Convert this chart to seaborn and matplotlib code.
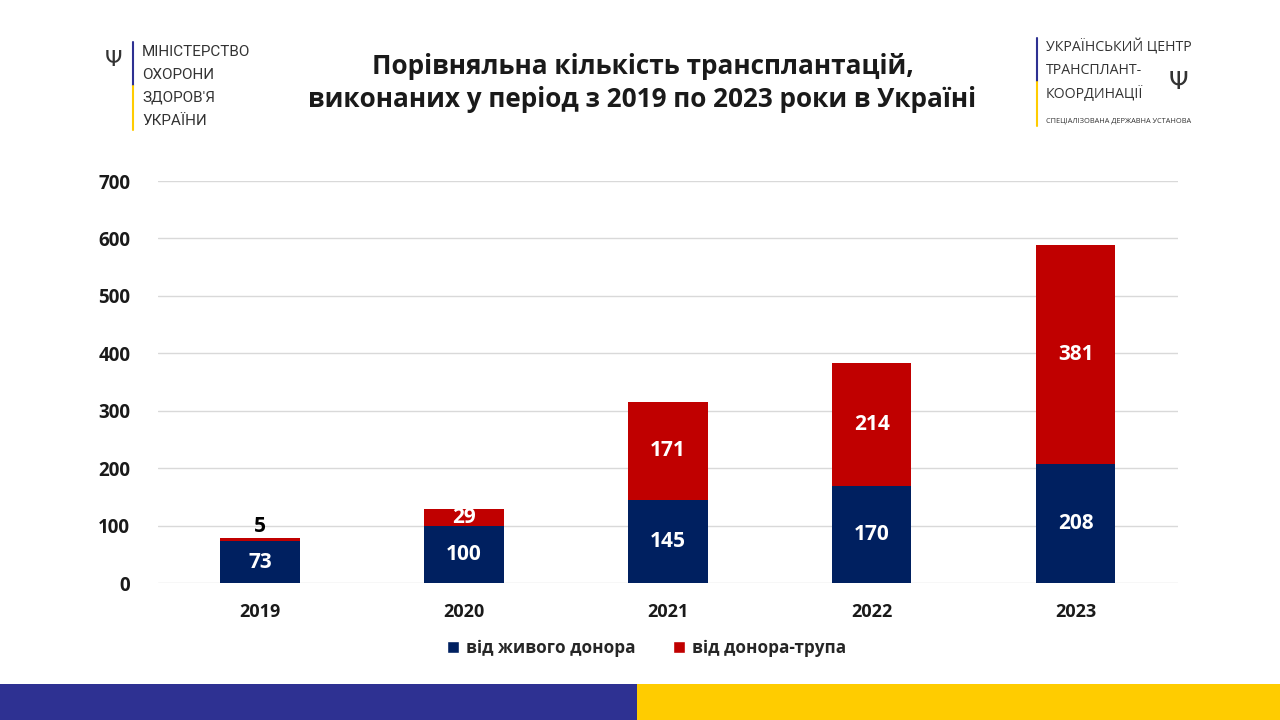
import matplotlib
matplotlib.use("Agg")
import matplotlib.pyplot as plt
import seaborn as sns
import pandas as pd
from matplotlib.patches import Rectangle, Patch
from matplotlib import font_manager

years = ["2019", "2020", "2021", "2022", "2023"]
living = [73, 100, 145, 170, 208]
cadaver = [5, 29, 171, 214, 381]
series_names = ["від живого донора", "від донора-трупа"]
title_text = "Порівняльна кількість трансплантацій,\nвиконаних у період з 2019 по 2023 роки в Україні"
yticks = [0, 100, 200, 300, 400, 500, 600, 700]

NAVY = "#002060"
RED = "#C00000"

sns.set_theme(style="white")
plt.rcParams['font.family'] = ['Open Sans', 'DejaVu Sans']

df = pd.DataFrame({"year": years, "living": living, "cadaver": cadaver})
df["total"] = df["living"] + df["cadaver"]

fig = plt.figure(figsize=(12.8, 7.2), dpi=100)
fig.patch.set_facecolor("white")
ax = fig.add_axes([0.1234, 0.190, 0.7966, 0.5586])

sns.barplot(data=df, x="year", y="total", color=RED, saturation=1, width=0.39, ax=ax,
            zorder=3, linewidth=0, edgecolor="none")
sns.barplot(data=df, x="year", y="living", color=NAVY, saturation=1, width=0.39, ax=ax,
            zorder=4, linewidth=0, edgecolor="none")

ax.set_ylim(0, 700)
ax.set_xlim(-0.5, 4.5)
ax.set_yticks(yticks)
ax.set_yticklabels([str(t) for t in yticks], fontsize=13.5, fontweight="bold", color="#1a1a1a")
ax.set_xticks(range(len(years)))
ax.set_xticklabels(years, fontsize=13, fontweight="bold", color="#1a1a1a")
ax.tick_params(axis="y", length=0, pad=20)
ax.tick_params(axis="x", length=0, pad=14)
ax.set_xlabel("")
ax.set_ylabel("")
ax.yaxis.grid(True, color="#D9D9D9", linewidth=1)
ax.set_axisbelow(True)
for s in ax.spines.values():
    s.set_visible(False)

for i in range(len(years)):
    ax.text(i, living[i] / 2, str(living[i]), ha="center", va="center",
            color="white", fontsize=15, fontweight="bold", zorder=6)
    if cadaver[i] < 15:
        ax.text(i, living[i] + cadaver[i] + 3, str(cadaver[i]), ha="center", va="bottom",
                color="black", fontsize=15, fontweight="bold", zorder=6)
    else:
        ax.text(i, living[i] + cadaver[i] / 2, str(cadaver[i]), ha="center", va="center",
                color="white", fontsize=15, fontweight="bold", zorder=6)

handles = [Patch(facecolor=NAVY), Patch(facecolor=RED)]
fig.legend(handles, series_names, loc="center", bbox_to_anchor=(0.505, 0.1), ncol=2,
           frameon=False, prop={"size": 12.3, "weight": "bold"}, handlelength=0.7,
           handleheight=0.7, handletextpad=0.4, columnspacing=2.2)

# title
fig.text(0.502, 0.885, title_text, ha="center", va="center", fontsize=18.8,
         fontweight="bold", color="#1a1a1a", linespacing=1.3)

# bottom band
fig.patches.append(Rectangle((0, 0), 637 / 1280, 36 / 720, transform=fig.transFigure,
                             facecolor="#2E3192", edgecolor="none"))
fig.patches.append(Rectangle((637 / 1280, 0), 1 - 637 / 1280, 36 / 720, transform=fig.transFigure,
                             facecolor="#FFCC00", edgecolor="none"))

# left logo
fig.add_artist(plt.Line2D([133 / 1280, 133 / 1280], [1 - 42 / 720, 1 - 86 / 720],
                          transform=fig.transFigure, color="#2E3192", linewidth=1.5))
fig.add_artist(plt.Line2D([133 / 1280, 133 / 1280], [1 - 86 / 720, 1 - 130 / 720],
                          transform=fig.transFigure, color="#FFCC00", linewidth=1.5))
fig.text(113 / 1280, 1 - 60 / 720, "Ψ", ha="center", va="center", fontsize=16,
         color="#333333", family=["DejaVu Sans"])
for j, line in enumerate(["МІНІСТЕРСТВО", "ОХОРОНИ", "ЗДОРОВ'Я", "УКРАЇНИ"]):
    fig.text(142 / 1280, 1 - (52 + j * 23) / 720, line, ha="left", va="center",
             fontsize=11, color="#333333", family=["Roboto", "DejaVu Sans"])

# right logo
fig.add_artist(plt.Line2D([1037 / 1280, 1037 / 1280], [1 - 38 / 720, 1 - 82 / 720],
                          transform=fig.transFigure, color="#2E3192", linewidth=1.5))
fig.add_artist(plt.Line2D([1037 / 1280, 1037 / 1280], [1 - 82 / 720, 1 - 126 / 720],
                          transform=fig.transFigure, color="#FFCC00", linewidth=1.5))
for j, line in enumerate(["УКРАЇНСЬКИЙ ЦЕНТР", "ТРАНСПЛАНТ-", "КООРДИНАЦІЇ"]):
    fig.text(1046 / 1280, 1 - (48 + j * 23) / 720, line, ha="left", va="center",
             fontsize=10.2, color="#333333", family=["Open Sans", "DejaVu Sans"])
fig.text(1046 / 1280, 1 - 121 / 720, "СПЕЦІАЛІЗОВАНА ДЕРЖАВНА УСТАНОВА", ha="left", va="center",
         fontsize=5.3, color="#333333", family=["Open Sans", "DejaVu Sans"])
fig.text(1178 / 1280, 1 - 82 / 720, "Ψ", ha="center", va="center", fontsize=18,
         color="#333333", family=["DejaVu Sans"])

fig.savefig("out.png", dpi=100, facecolor="white")
